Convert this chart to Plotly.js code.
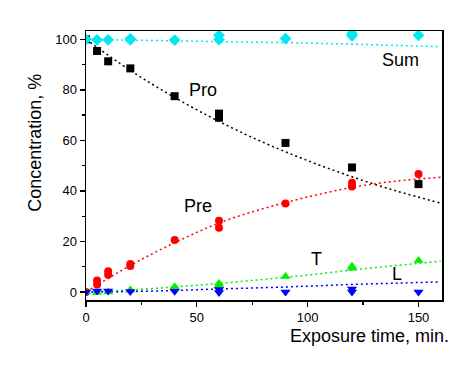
<!DOCTYPE html>
<html>
<head>
<meta charset="utf-8">
<script src="https://cdn.plot.ly/plotly-3.0.1.min.js"></script>
<style>html,body{margin:0;padding:0;background:#fff;}#chart{width:472px;height:373px;}</style>
</head>
<body>
<div id="chart"></div>
<script>
// Measured points
const proX = [0, 5, 10, 20, 40, 60, 60, 90, 120, 150];
const proY = [100, 95.4, 91.3, 88.5, 77.5, 70.6, 69.0, 59.0, 49.3, 42.7];
const preX = [0, 5, 5, 10, 10, 20, 20, 40, 60, 60, 90, 120, 120, 150];
const preY = [0, 3.0, 4.5, 6.8, 8.2, 10.3, 11.1, 20.6, 28.2, 25.4, 35.0, 43.2, 41.8, 46.7];
const tX = [0, 5, 10, 20, 40, 60, 60, 90, 120, 120, 150];
const tY = [0, -0.2, 0, 0.8, 2.1, 3.4, 2.5, 6.1, 9.4, 10.2, 12.5];
const lX = [0, 5, 10, 20, 40, 60, 60, 90, 120, 120, 150];
const lY = [0, 0.4, 0.4, 0.2, 0.3, 1.0, -0.2, 0, 1.2, 0, 0];
const sumX = [0, 5, 10, 20, 20, 40, 60, 60, 90, 120, 120, 150];
const sumY = [100, 99.8, 99.8, 99.8, 100.2, 99.7, 101.6, 99.9, 100.3, 102.2, 101.4, 101.6];

// Fit curves
const fitX   = [0, 20, 40, 60, 80, 100, 120, 140, 160];
const proFit = [100, 87.7, 77.0, 67.5, 59.2, 52.0, 45.6, 40.0, 35.2];
const preFit = [0, 10.5, 19.5, 27.3, 33.0, 37.6, 41.4, 43.9, 45.4];
const tFit   = [0, 0.8, 2.0, 3.4, 5.0, 6.7, 8.7, 10.5, 12.2];
const lFit   = [0, 0.2, 0.6, 1.2, 1.7, 2.3, 3.0, 3.5, 4.0];
const sumFit = [100, 99.7, 99.4, 99.1, 98.8, 98.5, 98.1, 97.6, 97.1];

const labels = [
  {text: 'Pro', x: 52.7, y: 79.8},
  {text: 'Pre', x: 50.5, y: 34.0},
  {text: 'Sum', x: 141.9, y: 91.7},
  {text: 'T', x: 104, y: 13.0},
  {text: 'L', x: 140.3, y: 7.1}
];

const colPro = '#000000', colPre = '#ff0000', colT = '#00ee00', colL = '#0000ff', colSum = '#00e8f0';
const dash = '2px,3px';

function fit(y, c) {
  return {x: fitX, y: y, mode: 'lines', line: {color: c, width: 1.5, dash: dash, shape: 'spline'}, hoverinfo: 'skip'};
}
function pts(x, y, c, sym, sz) {
  return {x: x, y: y, mode: 'markers', marker: {color: c, symbol: sym, size: sz, line: {width: 0}}};
}

const data = [
  fit(proFit, colPro), fit(preFit, colPre), fit(tFit, colT), fit(lFit, colL), fit(sumFit, colSum),
  pts(proX, proY, colPro, 'square', 8),
  pts(preX, preY, colPre, 'circle', 8),
  pts(tX, tY, colT, 'triangle-up', 9),
  pts(lX, lY, colL, 'triangle-down', 9),
  pts(sumX, sumY, colSum, 'diamond', 9)
];

const font = 'Arial, "Liberation Sans", sans-serif';
const annotations = labels.map(l => ({
  text: l.text, x: l.x, y: l.y, xref: 'x', yref: 'y', showarrow: false,
  xanchor: 'center', yanchor: 'middle', font: {family: font, size: 18, color: '#000'}
}));
annotations.push({text: 'Exposure time, min.', xref: 'paper', yref: 'paper', x: 0.796, y: -0.132,
  showarrow: false, xanchor: 'center', yanchor: 'middle', font: {family: font, size: 18, color: '#000'}});
annotations.push({text: 'Concentration, %', xref: 'paper', yref: 'paper', x: -0.143, y: 0.585,
  textangle: -90, showarrow: false, xanchor: 'center', yanchor: 'middle', font: {family: font, size: 18, color: '#000'}});

const layout = {
  width: 472, height: 373,
  margin: {l: 86, r: 30, t: 31, b: 73, pad: 0},
  paper_bgcolor: '#fff', plot_bgcolor: '#fff',
  showlegend: false,
  font: {family: font, size: 13, color: '#000'},
  xaxis: {
    range: [0, 160.6], tickvals: [0, 50, 100, 150], ticktext: ['0', '50', '100', '150'],
    ticks: 'outside', ticklen: 5, tickwidth: 1.3, tickcolor: '#000',
    minor: {tickvals: [25, 75, 125], ticks: 'outside', ticklen: 3, tickcolor: '#000', tickwidth: 1.3},
    showline: true, linecolor: '#000', linewidth: 1.5, mirror: true,
    showgrid: false, zeroline: false, tickfont: {size: 13, family: font}
  },
  yaxis: {
    range: [-3.17, 103.3], tickvals: [0, 20, 40, 60, 80, 100], ticktext: ['0', '20', '40', '60', '80', '100'],
    ticks: 'outside', ticklen: 5, tickwidth: 1.3, tickcolor: '#000',
    minor: {tickvals: [10, 30, 50, 70, 90], ticks: 'outside', ticklen: 3, tickcolor: '#000', tickwidth: 1.3},
    showline: true, linecolor: '#000', linewidth: 1.5, mirror: true,
    showgrid: false, zeroline: false, tickfont: {size: 13, family: font}
  },
  annotations: annotations
};

Plotly.newPlot('chart', data, layout, {displayModeBar: false, staticPlot: true});
</script>
</body>
</html>
